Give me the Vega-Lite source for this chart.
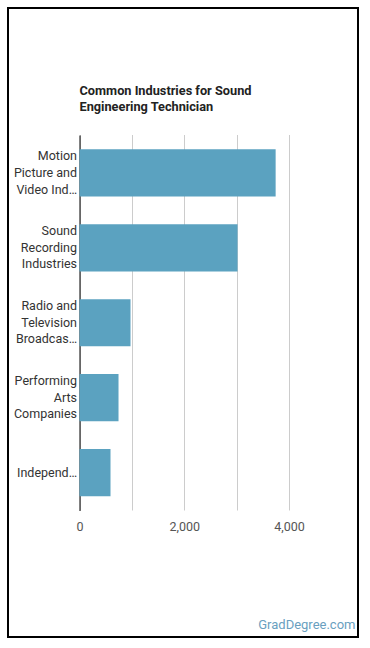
{
  "$schema": "https://vega.github.io/schema/vega-lite/v6.json",
  "autosize": "none",
  "padding": {"left": 8, "top": 8, "right": 12, "bottom": 11},
  "width": 350,
  "height": 629,
  "background": "white",
  "config": {
    "view": {"stroke": "#000000", "strokeWidth": 2},
    "font": "Roboto"
  },
  "title": {
    "text": ["Common Industries for Sound", "Engineering Technician"],
    "anchor": "start",
    "frame": "group",
    "dx": 71.5,
    "offset": -106,
    "baseline": "top",
    "fontSize": 12.75,
    "fontWeight": "bold",
    "font": "Roboto",
    "color": "#222222",
    "lineHeight": 16.7
  },
  "data": {
    "values": [
      {"industry": "Motion Picture and Video Industries", "workers": 3745},
      {"industry": "Sound Recording Industries", "workers": 3018},
      {"industry": "Radio and Television Broadcasting", "workers": 974},
      {"industry": "Performing Arts Companies", "workers": 745},
      {"industry": "Independent Artists, Writers, and Performers", "workers": 592}
    ]
  },
  "mark": {"type": "bar", "color": "#5ba2c0"},
  "encoding": {
    "y": {
      "field": "industry",
      "type": "nominal",
      "sort": null,
      "scale": {"range": [127, 502.5], "paddingInner": 0.37, "paddingOuter": 0.19},
      "axis": {
        "title": null,
        "orient": "left",
        "offset": -71.5,
        "domainColor": "#000000",
        "domainWidth": 1,
        "ticks": false,
        "labelPadding": 3,
        "labelFontSize": 12.5,
        "labelColor": "#333333",
        "labelLimit": 200,
        "labelLineHeight": 16.7,
        "labelOffset": {
          "condition": {"test": "datum.value != 'Independent Artists, Writers, and Performers'", "value": -16.7},
          "value": 0
        },
        "labelExpr": "datum.value == 'Motion Picture and Video Industries' ? ['Motion', 'Picture and', 'Video Ind…'] : datum.value == 'Sound Recording Industries' ? ['Sound', 'Recording', 'Industries'] : datum.value == 'Radio and Television Broadcasting' ? ['Radio and', 'Television', 'Broadcas…'] : datum.value == 'Performing Arts Companies' ? ['Performing', 'Arts', 'Companies'] : 'Independ…'"
      }
    },
    "x": {
      "field": "workers",
      "type": "quantitative",
      "scale": {"domain": [0, 4000], "range": [71.5, 281], "nice": false},
      "axis": {
        "orient": "bottom",
        "offset": -126.5,
        "values": [0, 1000, 2000, 3000, 4000],
        "labelExpr": "datum.value % 2000 === 0 ? datum.label : ''",
        "domain": false,
        "ticks": false,
        "grid": true,
        "gridColor": "#cccccc",
        "gridWidth": 1,
        "labelFlush": false,
        "labelPadding": 10,
        "labelFontSize": 12.5,
        "labelColor": "#555555",
        "title": "GradDegree.com",
        "titleX": 347,
        "titleY": 114,
        "titleAlign": "right",
        "titleAnchor": null,
        "titleBaseline": "middle",
        "titleFontSize": 13,
        "titleFontWeight": "normal",
        "titleColor": "#6a9fbf"
      }
    }
  }
}
